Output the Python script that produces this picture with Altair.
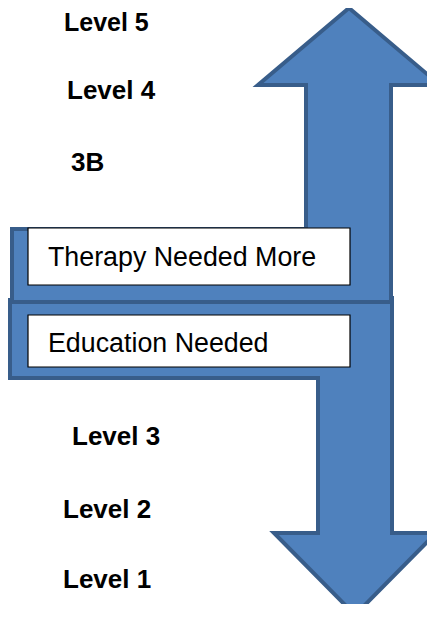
import altair as alt
import pandas as pd

# Shape outlines (vertex lists, diagram coordinates in px, y downwards)
up_x = [349, 440, 391, 391, 12, 12, 306, 306, 258, 349]
up_y = [8, 85, 85, 302, 302, 229, 229, 85, 85, 8]
down_x = [10, 392, 392, 436, 355, 274, 318, 318, 10, 10]
down_y = [298, 298, 533, 533, 615, 533, 533, 378, 378, 298]

# White boxes
box_labels = ["Therapy Needed More", "Education Needed"]
box_x1 = [28, 28]
box_x2 = [350, 350]
box_y1 = [228, 315]
box_y2 = [285, 367]
box_text_x = [48, 48]
box_text_y = [266, 352]

# Level labels
level_labels = ["Level 5", "Level 4", "3B", "Level 3", "Level 2", "Level 1"]
level_x = [64, 67, 71, 72, 63, 63]
level_y = [31, 99, 171, 445, 518, 588]
level_size = [25, 26, 26, 26, 26, 26]

up_df = pd.DataFrame({"x": up_x, "y": up_y, "i": range(len(up_x))})
down_df = pd.DataFrame({"x": down_x, "y": down_y, "i": range(len(down_x))})
boxes = pd.DataFrame({"label": box_labels, "x1": box_x1, "x2": box_x2, "y1": box_y1, "y2": box_y2,
                      "tx": box_text_x, "ty": box_text_y})
levels = pd.DataFrame({"label": level_labels, "x": level_x, "y": level_y, "s": level_size})

W, H = 419, 596
xs = alt.Scale(domain=[8, 8 + W], nice=False, zero=False)
ys = alt.Scale(domain=[8, 8 + H], nice=False, zero=False, reverse=True)


def arrow(df):
    return alt.Chart(df).mark_line(
        fill="#4F81BD", stroke="#385D8A", strokeWidth=4, strokeJoin="miter", strokeMiterLimit=10
    ).encode(
        x=alt.X("x:Q", scale=xs, axis=None),
        y=alt.Y("y:Q", scale=ys, axis=None),
        order="i:Q",
    )


rects = alt.Chart(boxes).mark_rect(fill="white", stroke="black", strokeWidth=1.2).encode(
    x=alt.X("x1:Q", scale=xs, axis=None), x2="x2:Q",
    y=alt.Y("y1:Q", scale=ys, axis=None), y2="y2:Q",
)

box_text = alt.Chart(boxes).mark_text(
    align="left", baseline="alphabetic", font="Liberation Sans", fontSize=26.8, color="black"
).encode(
    x=alt.X("tx:Q", scale=xs, axis=None),
    y=alt.Y("ty:Q", scale=ys, axis=None),
    text="label:N",
)

level_text = alt.Chart(levels).mark_text(
    align="left", baseline="alphabetic", font="Liberation Sans", fontWeight="bold", color="black"
).encode(
    x=alt.X("x:Q", scale=xs, axis=None),
    y=alt.Y("y:Q", scale=ys, axis=None),
    size=alt.Size("s:Q", scale=None, legend=None),
    text="label:N",
)

chart = alt.layer(arrow(down_df), arrow(up_df), rects, box_text, level_text).properties(
    width=W, height=H, padding=0, autosize=alt.AutoSizeParams(type="none")
).configure_view(stroke=None)

chart.save("out.html", embed_options={"renderer": "svg", "actions": False})
